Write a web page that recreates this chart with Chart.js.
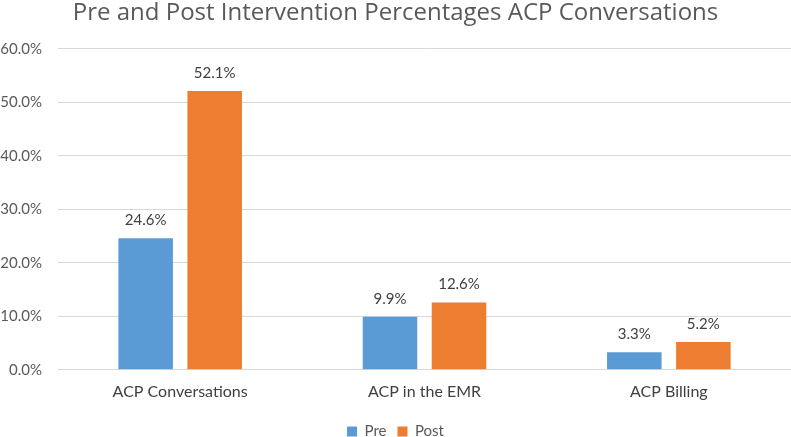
<!DOCTYPE html>
<html>
<head>
<meta charset="utf-8">
<script src="https://cdn.jsdelivr.net/npm/chart.js@4"></script>
<style>
  html, body { margin: 0; padding: 0; background: #fff; }
  #wrap { width: 791px; height: 437px; }
</style>
</head>
<body>
<div id="wrap"><canvas id="acpChart" width="791" height="437"></canvas></div>
<script>
var categories = ['ACP Conversations', 'ACP in the EMR', 'ACP Billing'];
var preValues = [24.6, 9.9, 3.3];
var postValues = [52.1, 12.6, 5.2];

var textColor = '#595959';
var fontFamily = 'Lato, "Open Sans", sans-serif';

// draws the value above every bar
var valueLabels = {
    id: 'valueLabels',
    afterDatasetsDraw: function (chart) {
        var ctx = chart.ctx;
        ctx.save();
        ctx.font = '15px ' + fontFamily;
        ctx.fillStyle = '#404040';
        ctx.textAlign = 'center';
        ctx.textBaseline = 'alphabetic';
        chart.data.datasets.forEach(function (ds, i) {
            chart.getDatasetMeta(i).data.forEach(function (bar, j) {
                ctx.fillText(ds.data[j].toFixed(1) + '%', bar.x, bar.y - 13);
            });
        });
        ctx.restore();
    }
};

var acp = document.getElementById('acpChart').getContext('2d');
var acpChart = new Chart(acp, {
    type: 'bar',
    data: {
        labels: categories,
        datasets: [
            {
                label: 'Pre',
                backgroundColor: '#5B9BD5',
                data: preValues
            },
            {
                label: 'Post',
                backgroundColor: '#ED7D31',
                data: postValues
            }
        ]
    },
    options: {
        responsive: false,
        animation: false,
        layout: { padding: { left: 0, right: 0, top: -1, bottom: -12 } },
        datasets: {
            bar: { categoryPercentage: 0.565, barPercentage: 0.79 }
        },
        plugins: {
            title: {
                display: true,
                text: 'Pre and Post Intervention Percentages ACP Conversations',
                color: textColor,
                font: { family: '"Open Sans", Lato, sans-serif', size: 24, weight: 'normal' },
                padding: { top: 0, bottom: 21 }
            },
            legend: {
                position: 'bottom',
                labels: {
                    color: textColor,
                    font: { family: fontFamily, size: 15 },
                    boxWidth: 10,
                    boxHeight: 10,
                    padding: 11
                }
            },
            tooltip: { enabled: false }
        },
        scales: {
            x: {
                grid: { display: false, drawTicks: false },
                border: { color: '#d9d9d9', width: 1 },
                ticks: {
                    color: '#404040',
                    font: { family: fontFamily, size: 16 },
                    padding: 12
                }
            },
            y: {
                min: 0,
                max: 60,
                afterFit: function (scale) { scale.width = 58; },
                ticks: {
                    stepSize: 10,
                    color: textColor,
                    font: { family: fontFamily, size: 15 },
                    padding: 16,
                    callback: function (v) { return v.toFixed(1) + '%'; }
                },
                grid: { color: '#d9d9d9', drawTicks: false },
                border: { display: false }
            }
        }
    },
    plugins: [valueLabels]
});
</script>
</body>
</html>
